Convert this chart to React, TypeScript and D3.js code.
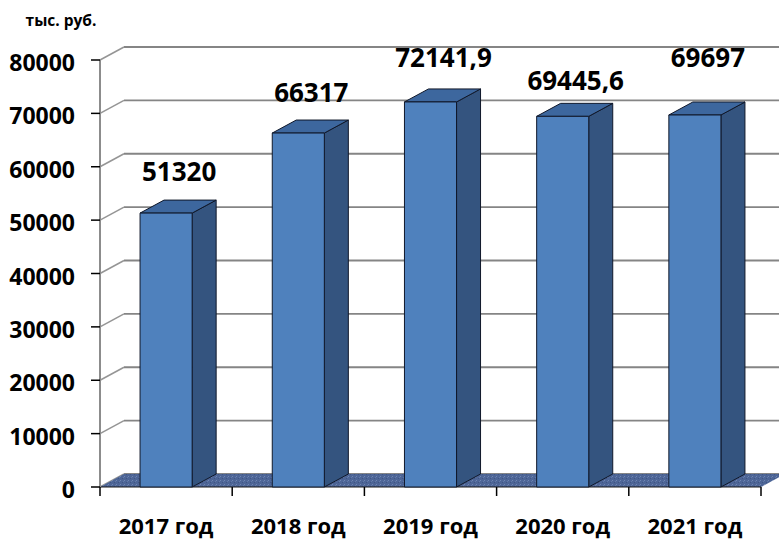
import React from "react";
import * as d3 from "d3";

const categories = ["2017 год", "2018 год", "2019 год", "2020 год", "2021 год"];
const values = [51320, 66317, 72141.9, 69445.6, 69697];
const valueLabels = ["51320", "66317", "72141,9", "69445,6", "69697"];
const yTicks = [0, 10000, 20000, 30000, 40000, 50000, 60000, 70000, 80000];
const unitLabel = "тыс. руб.";

// label vertical nudges (px above the bar's front top edge)
const labelLift = [32, 31, 35, 26, 48];

const W = 779;
const H = 541;
const DX = 24;
const DY = -13;
const FONT = "'Open Sans', Lato, sans-serif";

export default function App() {
  const x = d3
    .scaleBand<string>()
    .domain(categories)
    .range([100, 761])
    .paddingInner(0.606)
    .paddingOuter(0.303);
  const y = d3.scaleLinear().domain([0, 80000]).range([487, 60]);
  const step = x.step();
  const x0 = 100;
  const x1 = 761;
  const y0 = y(0);
  const bw = x.bandwidth();

  return (
    <svg
      width={W}
      height={H}
      style={{ position: "absolute", left: 0, top: 0, background: "#fff" }}
    >
      <defs>
        <pattern id="floorPat" width="4" height="4" patternUnits="userSpaceOnUse">
          <rect width="4" height="4" fill="#4d6596" />
          <rect x="0" y="0" width="1" height="1" fill="#6f86b3" />
          <rect x="2" y="2" width="1" height="1" fill="#3f5583" />
          <rect x="3" y="1" width="1" height="1" fill="#6179a8" />
        </pattern>
      </defs>

      {/* back wall gridlines */}
      {yTicks.map((t) => (
        <g key={"g" + t}>
          <line
            x1={x0 + DX}
            x2={x1 + DX}
            y1={y(t) + DY}
            y2={y(t) + DY}
            stroke="#858585"
            strokeWidth={1.8}
          />
          <line
            x1={x0}
            x2={x0 + DX}
            y1={y(t)}
            y2={y(t) + DY}
            stroke="#959595"
            strokeWidth={1.5}
          />
        </g>
      ))}

      {/* floor */}
      <polygon
        points={`${x0},${y0} ${x1},${y0} ${x1 + DX},${y0 + DY} ${x0 + DX},${y0 + DY}`}
        fill="url(#floorPat)"
      />
      <line x1={x0} x2={x1} y1={y0} y2={y0} stroke="#1a1a1a" strokeWidth={1} />

      {/* bars */}
      {categories.map((c, i) => {
        const bx = x(c) as number;
        const top = y(values[i]);
        const front = `M${bx},${y0} L${bx + bw},${y0} L${bx + bw},${top} L${bx},${top} Z`;
        const side = `M${bx + bw},${y0} L${bx + bw + DX},${y0 + DY} L${bx + bw + DX},${top + DY} L${bx + bw},${top} Z`;
        const topFace = `M${bx},${top} L${bx + bw},${top} L${bx + bw + DX},${top + DY} L${bx + DX},${top + DY} Z`;
        return (
          <g key={c} stroke="#10182a" strokeWidth={1} strokeLinejoin="round">
            <path d={side} fill="#34547f" />
            <path d={topFace} fill="#3d679e" />
            <path d={front} fill="#4f81bd" />
          </g>
        );
      })}

      {/* y axis */}
      <line x1={x0} x2={x0} y1={y(80000)} y2={y0} stroke="#8c8c8c" strokeWidth={2} />
      {yTicks.map((t) => (
        <g key={"t" + t}>
          <line x1={x0 - 9} x2={x0} y1={y(t)} y2={y(t)} stroke="#000" strokeWidth={1.5} />
          <text
            x={75}
            y={y(t) + 2}
            textAnchor="end"
            dominantBaseline="central"
            fontFamily={FONT}
            fontWeight={700}
            fontSize={23}
            fill="#000"
          >
            {t}
          </text>
        </g>
      ))}

      {/* x axis ticks */}
      {d3.range(categories.length + 1).map((k) => (
        <line
          key={"xt" + k}
          x1={x0 + k * step}
          x2={x0 + k * step}
          y1={y0}
          y2={y0 + 9}
          stroke="#000"
          strokeWidth={1.5}
        />
      ))}
      {categories.map((c) => (
        <text
          key={"xl" + c}
          x={(x(c) as number) + bw / 2}
          y={534}
          textAnchor="middle"
          fontFamily={FONT}
          fontWeight={700}
          fontSize={22}
          fill="#000"
        >
          {c}
        </text>
      ))}

      {/* value labels */}
      {categories.map((c, i) => (
        <text
          key={"vl" + c}
          x={(x(c) as number) + bw / 2 + 13}
          y={y(values[i]) - labelLift[i]}
          textAnchor="middle"
          fontFamily={FONT}
          fontWeight={700}
          fontSize={26}
          fill="#000"
        >
          {valueLabels[i]}
        </text>
      ))}

      <text
        x={61}
        y={26}
        textAnchor="middle"
        fontFamily={FONT}
        fontWeight={700}
        fontSize={15.5}
        fill="#000"
      >
        {unitLabel}
      </text>
    </svg>
  );
}
